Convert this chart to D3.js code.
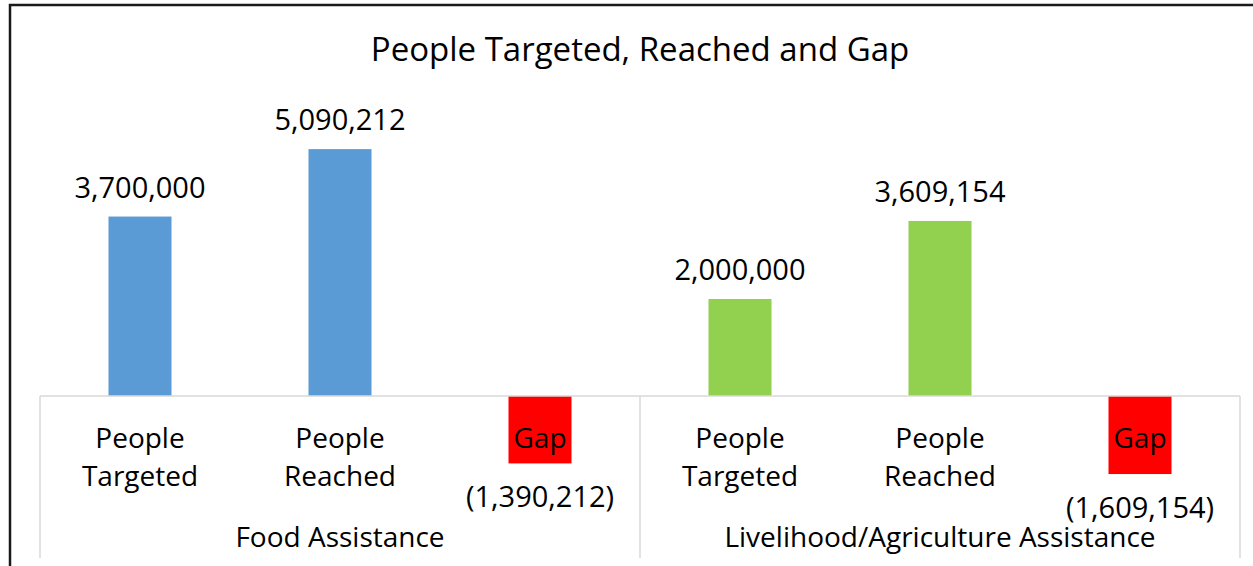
<!DOCTYPE html>
<html>
<head>
<meta charset="utf-8">
<script src="https://cdn.jsdelivr.net/npm/d3@7"></script>
<style>
  html, body { margin: 0; padding: 0; background: #fff; }
  svg { display: block; font-family: "Open Sans", "Noto Sans", sans-serif; }
</style>
</head>
<body>
<svg id="chart" width="1253" height="566"></svg>
<script>
// ---- data ----
const title = "People Targeted, Reached and Gap";
const groups = ["Food Assistance", "Livelihood/Agriculture Assistance"];
const categoryLabels = [["People", "Targeted"], ["People", "Reached"], ["Gap"]];
const foodValues = [3700000, 5090212, -1390212];
const livelihoodValues = [2000000, 3609154, -1609154];
const groupColors = ["#5B9BD5", "#92D050"];
const gapColor = "#FF0000";

// ---- build rows ----
const rows = [];
[foodValues, livelihoodValues].forEach((vals, gi) => {
  vals.forEach((v, ci) => {
    rows.push({ key: gi + "-" + ci, group: gi, cat: ci, value: v,
      label: categoryLabels[ci],
      color: ci === 2 ? gapColor : groupColors[gi] });
  });
});

const svg = d3.select("#chart");
const left = 40, right = 1240;

// outer frame (extends beyond the visible area on right/bottom)
svg.append("rect")
  .attr("x", 10).attr("y", 5).attr("width", 1300).attr("height", 620)
  .attr("fill", "#fff").attr("stroke", "#1a1a1a").attr("stroke-width", 2.5);

// title
svg.append("text")
  .attr("x", 640).attr("y", 61)
  .attr("text-anchor", "middle")
  .attr("font-size", 33)
  .attr("fill", "#000")
  .text(title);

// scales
const x = d3.scaleBand()
  .domain(rows.map(d => d.key))
  .range([left, right])
  .paddingInner(0.685)
  .paddingOuter(0.3425);

const y = d3.scaleLinear()
  .domain([-2000000, 6000000])
  .range([493, 105]);

const xGroup = d3.scaleBand()
  .domain(groups.map((g, i) => i))
  .range([left, right]);

const y0 = y(0);

// bars
svg.append("g").selectAll("rect")
  .data(rows)
  .join("rect")
  .attr("x", d => x(d.key))
  .attr("width", x.bandwidth())
  .attr("y", d => Math.min(y(d.value), y0))
  .attr("height", d => Math.abs(y(d.value) - y0))
  .attr("fill", d => d.color);

// axis line and group separators
const axisG = svg.append("g");
axisG.append("line")
  .attr("x1", left).attr("x2", right)
  .attr("y1", y0).attr("y2", y0)
  .attr("stroke", "#d9d9d9").attr("stroke-width", 1.5);

const sepXs = [left].concat(groups.map((g, i) => xGroup(i) + xGroup.bandwidth()));
axisG.selectAll("line.sep")
  .data(sepXs)
  .join("line")
  .attr("class", "sep")
  .attr("x1", d => d).attr("x2", d => d)
  .attr("y1", y0).attr("y2", 558)
  .attr("stroke", "#d9d9d9").attr("stroke-width", 1.5);

// category (tick) labels
const tickG = svg.append("g").attr("font-size", 28).attr("fill", "#000").attr("text-anchor", "middle");
rows.forEach(d => {
  const t = tickG.append("text")
    .attr("x", x(d.key) + x.bandwidth() / 2)
    .attr("y", 448);
  d.label.forEach((line, li) => {
    t.append("tspan")
      .attr("x", x(d.key) + x.bandwidth() / 2)
      .attr("dy", li === 0 ? 0 : 38)
      .text(line);
  });
});

// group labels
svg.append("g").attr("font-size", 28).attr("fill", "#000").attr("text-anchor", "middle")
  .selectAll("text")
  .data(groups)
  .join("text")
  .attr("x", (g, i) => xGroup(i) + xGroup.bandwidth() / 2)
  .attr("y", 547)
  .text(g => g);

// value labels
const fmt = d3.format(",");
svg.append("g").attr("font-size", 29).attr("fill", "#000").attr("text-anchor", "middle")
  .selectAll("text")
  .data(rows)
  .join("text")
  .attr("x", d => x(d.key) + x.bandwidth() / 2)
  .attr("y", d => d.value >= 0 ? y(d.value) - 19 : y(d.value) + 44)
  .text(d => d.value >= 0 ? fmt(d.value) : "(" + fmt(-d.value) + ")");
</script>
</body>
</html>
